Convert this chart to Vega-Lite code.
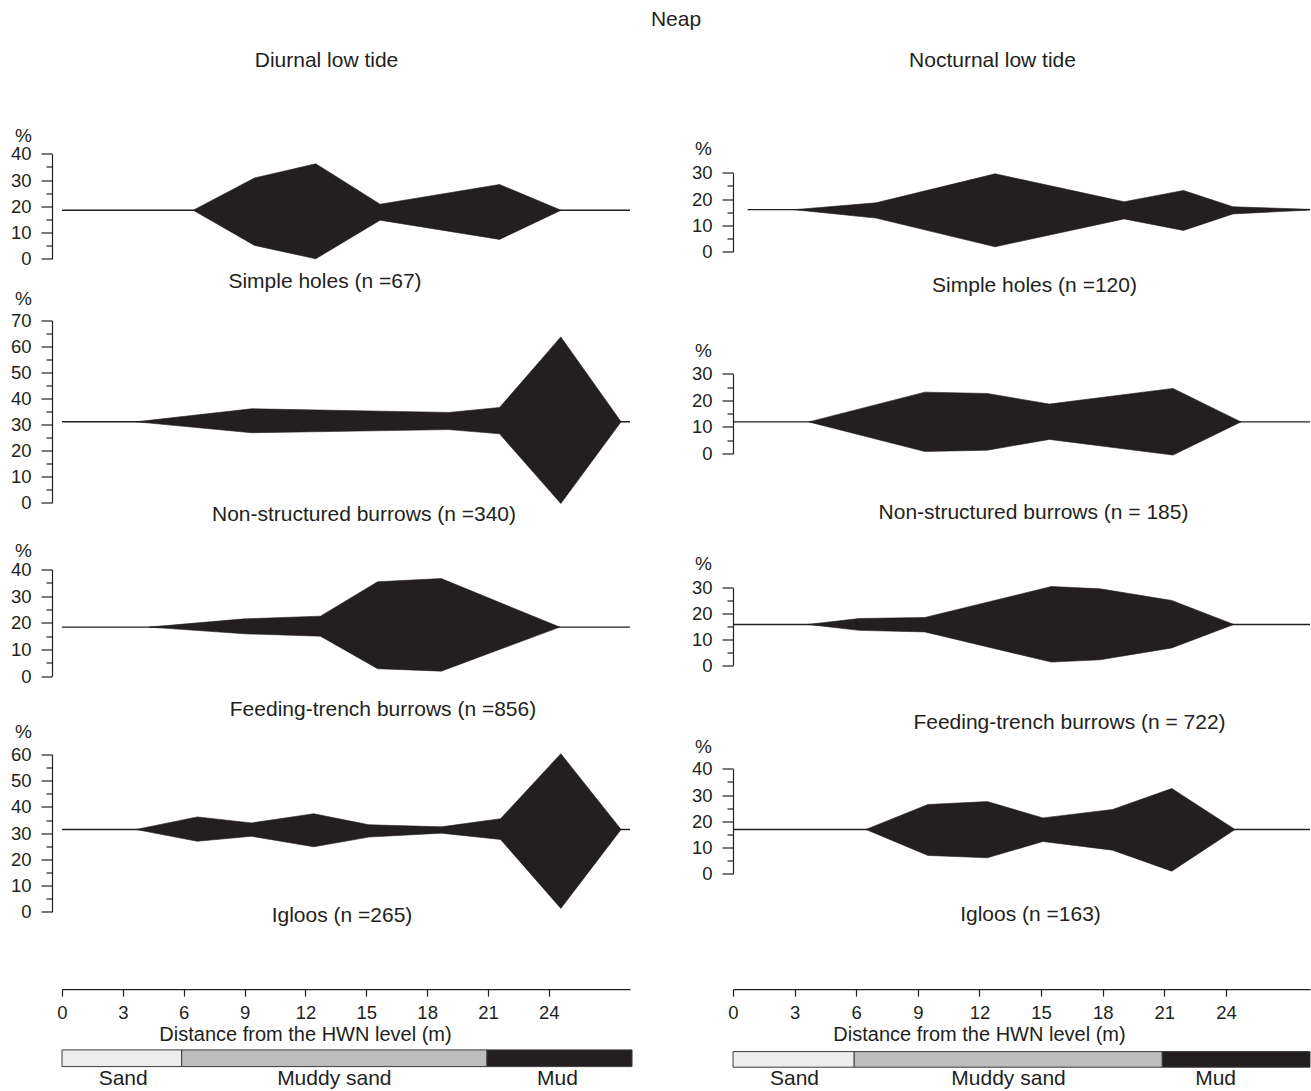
{
"$schema": "https://vega.github.io/schema/vega-lite/v6.json",
"padding": {"left": 10, "top": 8.5, "right": 0, "bottom": 0},
"title": {"text": "Neap", "anchor": "start", "frame": "group", "align": "center", "dx": 614, "offset": 3, "baseline": "alphabetic", "fontSize": 21, "fontWeight": "normal", "color": "#231f20"},
"config": {
  "font": "Liberation Sans",
  "view": {"stroke": null},
  "axis": {"domainColor": "#231f20", "tickColor": "#231f20", "labelColor": "#231f20", "titleColor": "#231f20", "titleFontWeight": "normal", "grid": false, "labelOverlap": false, "labelFlush": false, "domainWidth": 1.2, "tickWidth": 1.2},
  "axisLeft": {"labelFontSize": 18.5, "titleFontSize": 19, "tickSize": 11, "labelPadding": 10, "titleAngle": 0, "titleAlign": "center", "titleBaseline": "alphabetic"},
  "axisBottom": {"labelFontSize": 18.5, "titleFontSize": 20},
  "title": {"fontSize": 21, "fontWeight": "normal", "color": "#231f20"}
},
"datasets": {
  "kites": [
    {"panel":"L1","d":6.47,"hi":18.5,"lo":18.5},
    {"panel":"L1","d":9.49,"hi":30.8,"lo":5.1},
    {"panel":"L1","d":12.51,"hi":36.2,"lo":0},
    {"panel":"L1","d":15.68,"hi":20.8,"lo":14.7},
    {"panel":"L1","d":21.57,"hi":28.3,"lo":7.4},
    {"panel":"L1","d":24.6,"hi":18.5,"lo":18.5},
    {"panel":"L2","d":3.65,"hi":31.1,"lo":31.1},
    {"panel":"L2","d":9.34,"hi":36.1,"lo":26.9},
    {"panel":"L2","d":19.07,"hi":34.7,"lo":28.1},
    {"panel":"L2","d":21.57,"hi":36.6,"lo":26.5},
    {"panel":"L2","d":24.59,"hi":63.7,"lo":-0.3},
    {"panel":"L2","d":27.56,"hi":31.1,"lo":31.1},
    {"panel":"L3","d":4.28,"hi":18.4,"lo":18.4},
    {"panel":"L3","d":9.0,"hi":21.5,"lo":15.9},
    {"panel":"L3","d":12.74,"hi":22.5,"lo":15.0},
    {"panel":"L3","d":15.56,"hi":35.4,"lo":2.8},
    {"panel":"L3","d":18.7,"hi":36.6,"lo":1.9},
    {"panel":"L3","d":24.54,"hi":18.4,"lo":18.4},
    {"panel":"L4","d":3.65,"hi":31.4,"lo":31.4},
    {"panel":"L4","d":6.67,"hi":36.2,"lo":26.9},
    {"panel":"L4","d":9.34,"hi":33.9,"lo":28.8},
    {"panel":"L4","d":12.41,"hi":37.4,"lo":24.8},
    {"panel":"L4","d":15.13,"hi":33.2,"lo":28.5},
    {"panel":"L4","d":18.7,"hi":32.4,"lo":30.0},
    {"panel":"L4","d":21.62,"hi":35.5,"lo":27.6},
    {"panel":"L4","d":24.59,"hi":60.3,"lo":1.3},
    {"panel":"L4","d":27.56,"hi":31.4,"lo":31.4},
    {"panel":"R1","d":2.97,"hi":16,"lo":16},
    {"panel":"R1","d":6.96,"hi":18.6,"lo":12.8},
    {"panel":"R1","d":12.76,"hi":29.6,"lo":1.9},
    {"panel":"R1","d":19.04,"hi":19.0,"lo":12.5},
    {"panel":"R1","d":21.93,"hi":23.3,"lo":8.1},
    {"panel":"R1","d":24.34,"hi":17.1,"lo":14.4},
    {"panel":"R1","d":28.53,"hi":16,"lo":16},
    {"panel":"R2","d":3.69,"hi":11.9,"lo":11.9},
    {"panel":"R2","d":9.34,"hi":23.1,"lo":0.75},
    {"panel":"R2","d":12.38,"hi":22.6,"lo":1.25},
    {"panel":"R2","d":15.4,"hi":18.6,"lo":5.3},
    {"panel":"R2","d":21.42,"hi":24.5,"lo":-0.6},
    {"panel":"R2","d":24.73,"hi":11.9,"lo":11.9},
    {"panel":"R3","d":3.63,"hi":15.8,"lo":15.8},
    {"panel":"R3","d":6.15,"hi":18.1,"lo":13.5},
    {"panel":"R3","d":9.34,"hi":18.5,"lo":12.9},
    {"panel":"R3","d":15.5,"hi":30.5,"lo":1.2},
    {"panel":"R3","d":17.87,"hi":29.6,"lo":2.1},
    {"panel":"R3","d":21.36,"hi":25.1,"lo":6.7},
    {"panel":"R3","d":24.38,"hi":15.8,"lo":15.8},
    {"panel":"R4","d":6.47,"hi":16.9,"lo":16.9},
    {"panel":"R4","d":9.49,"hi":26.4,"lo":7.0},
    {"panel":"R4","d":12.38,"hi":27.5,"lo":6.1},
    {"panel":"R4","d":15.09,"hi":21.3,"lo":12.3},
    {"panel":"R4","d":18.48,"hi":24.5,"lo":9.0},
    {"panel":"R4","d":21.36,"hi":32.5,"lo":1.0},
    {"panel":"R4","d":24.44,"hi":16.9,"lo":16.9}
  ],
  "baselines": [
    {"panel":"L1","x0":0,"x1":28,"base":18.5},
    {"panel":"L2","x0":0,"x1":28,"base":31.1},
    {"panel":"L3","x0":0,"x1":28,"base":18.4},
    {"panel":"L4","x0":0,"x1":28,"base":31.4},
    {"panel":"R1","x0":0.71,"x1":28.09,"base":16},
    {"panel":"R2","x0":0,"x1":28.09,"base":11.9},
    {"panel":"R3","x0":0,"x1":28.09,"base":15.8},
    {"panel":"R4","x0":0,"x1":28.09,"base":16.9}
  ],
  "sediment": [
    {"col":"L","sediment":"Sand","start":0,"end":5.9},
    {"col":"L","sediment":"Muddy sand","start":5.9,"end":20.95},
    {"col":"L","sediment":"Mud","start":20.95,"end":28.1},
    {"col":"R","sediment":"Sand","start":0,"end":5.9},
    {"col":"R","sediment":"Muddy sand","start":5.9,"end":20.9},
    {"col":"R","sediment":"Mud","start":20.9,"end":28.09}
  ]
},
"columns": 2,
"spacing": {"row": 0, "column": 103},
"bounds": "flush",
"align": "each",
"concat": [
  {
    "width": 568, "height": 150,
    "title": {"text": "Simple holes (n =67)", "orient": "bottom", "frame": "group", "anchor": "middle", "offset": -29, "dx": -21},
    "layer": [
      {"data": {"name": "baselines"}, "transform": [{"filter": "datum.panel == 'L1'"}],
       "mark": {"type": "rule", "color": "#231f20", "strokeWidth": 1.4},
       "encoding": {
         "x": {"field": "x0", "type": "quantitative", "scale": {"domain": [0, 28], "nice": false, "zero": false}, "axis": {"orient": "top", "domain": false, "ticks": false, "labels": false, "title": "Diurnal low tide", "titleX": 264, "titleY": -83, "titleAlign": "center", "titleBaseline": "alphabetic", "titleFontSize": 21, "titleAngle": 0}},
         "x2": {"field": "x1"},
         "y": {"field": "base", "type": "quantitative", "scale": {"domain": [0, 40], "range": [109.3, 4.3], "nice": false, "zero": false}, "axis": {"offset": 10, "values": [0,5,10,15,20,25,30,35,40], "labelExpr": "datum.value % 10 == 0 ? datum.label : ''", "tickSize": {"condition": {"test": "datum.value % 10 == 0", "value": 11}, "value": 6}, "title": "%", "titleX": -29, "titleY": -8.5}}}},
      {"data": {"name": "kites"}, "transform": [{"filter": "datum.panel == 'L1'"}],
       "mark": {"type": "area", "color": "#231f20", "clip": true, "stroke": "#231f20", "strokeWidth": 0.6},
       "encoding": {
         "x": {"field": "d", "type": "quantitative", "scale": {"domain": [0, 28], "nice": false, "zero": false}, "axis": {"orient": "top", "domain": false, "ticks": false, "labels": false, "title": "Diurnal low tide", "titleX": 264, "titleY": -83, "titleAlign": "center", "titleBaseline": "alphabetic", "titleFontSize": 21, "titleAngle": 0}},
         "y": {"field": "hi", "type": "quantitative", "scale": {"domain": [0, 40], "range": [109.3, 4.3], "nice": false, "zero": false}, "axis": {"offset": 10, "values": [0,5,10,15,20,25,30,35,40], "labelExpr": "datum.value % 10 == 0 ? datum.label : ''", "tickSize": {"condition": {"test": "datum.value % 10 == 0", "value": 11}, "value": 6}, "title": "%", "titleX": -29, "titleY": -8.5}},
         "y2": {"field": "lo"}}}
    ]
  },
  {
    "width": 577, "height": 150,
    "title": {"text": "Simple holes (n =120)", "orient": "bottom", "frame": "group", "anchor": "middle", "offset": -25, "dx": 13},
    "layer": [
      {"data": {"name": "baselines"}, "transform": [{"filter": "datum.panel == 'R1'"}],
       "mark": {"type": "rule", "color": "#231f20", "strokeWidth": 1.4},
       "encoding": {
         "x": {"field": "x0", "type": "quantitative", "scale": {"domain": [0, 28.09], "nice": false, "zero": false}, "axis": {"orient": "top", "domain": false, "ticks": false, "labels": false, "title": "Nocturnal low tide", "titleX": 259, "titleY": -83, "titleAlign": "center", "titleBaseline": "alphabetic", "titleFontSize": 21, "titleAngle": 0}},
         "x2": {"field": "x1"},
         "y": {"field": "base", "type": "quantitative", "scale": {"domain": [0, 30], "range": [102.3, 23.3], "nice": false, "zero": false}, "axis": {"offset": 0, "values": [0,5,10,15,20,25,30], "labelExpr": "datum.value % 10 == 0 ? datum.label : ''", "tickSize": {"condition": {"test": "datum.value % 10 == 0", "value": 11}, "value": 6}, "title": "%", "titleX": -30, "titleY": 5}}}},
      {"data": {"name": "kites"}, "transform": [{"filter": "datum.panel == 'R1'"}],
       "mark": {"type": "area", "color": "#231f20", "clip": true, "stroke": "#231f20", "strokeWidth": 0.6},
       "encoding": {
         "x": {"field": "d", "type": "quantitative", "scale": {"domain": [0, 28.09], "nice": false, "zero": false}, "axis": {"orient": "top", "domain": false, "ticks": false, "labels": false, "title": "Nocturnal low tide", "titleX": 259, "titleY": -83, "titleAlign": "center", "titleBaseline": "alphabetic", "titleFontSize": 21, "titleAngle": 0}},
         "y": {"field": "hi", "type": "quantitative", "scale": {"domain": [0, 30], "range": [102.3, 23.3], "nice": false, "zero": false}, "axis": {"offset": 0, "values": [0,5,10,15,20,25,30], "labelExpr": "datum.value % 10 == 0 ? datum.label : ''", "tickSize": {"condition": {"test": "datum.value % 10 == 0", "value": 11}, "value": 6}, "title": "%", "titleX": -30, "titleY": 5}},
         "y2": {"field": "lo"}}}
    ]
  },
  {
    "width": 568, "height": 250,
    "title": {"text": "Non-structured burrows (n =340)", "orient": "bottom", "frame": "group", "anchor": "middle", "offset": -46, "dx": 18},
    "layer": [
      {"data": {"name": "baselines"}, "transform": [{"filter": "datum.panel == 'L2'"}],
       "mark": {"type": "rule", "color": "#231f20", "strokeWidth": 1.4},
       "encoding": {
         "x": {"field": "x0", "type": "quantitative", "scale": {"domain": [0, 28], "nice": false, "zero": false}, "axis": null},
         "x2": {"field": "x1"},
         "y": {"field": "base", "type": "quantitative", "scale": {"domain": [0, 70], "range": [203.3, 21], "nice": false, "zero": false}, "axis": {"offset": 10, "values": [0,5,10,15,20,25,30,35,40,45,50,55,60,65,70], "labelExpr": "datum.value % 10 == 0 ? datum.label : ''", "tickSize": {"condition": {"test": "datum.value % 10 == 0", "value": 11}, "value": 6}, "title": "%", "titleX": -29, "titleY": 5}}}},
      {"data": {"name": "kites"}, "transform": [{"filter": "datum.panel == 'L2'"}],
       "mark": {"type": "area", "color": "#231f20", "clip": true, "stroke": "#231f20", "strokeWidth": 0.6},
       "encoding": {
         "x": {"field": "d", "type": "quantitative", "scale": {"domain": [0, 28], "nice": false, "zero": false}, "axis": null},
         "y": {"field": "hi", "type": "quantitative", "scale": {"domain": [0, 70], "range": [203.3, 21], "nice": false, "zero": false}, "axis": {"offset": 10, "values": [0,5,10,15,20,25,30,35,40,45,50,55,60,65,70], "labelExpr": "datum.value % 10 == 0 ? datum.label : ''", "tickSize": {"condition": {"test": "datum.value % 10 == 0", "value": 11}, "value": 6}, "title": "%", "titleX": -29, "titleY": 5}},
         "y2": {"field": "lo"}}}
    ]
  },
  {
    "width": 577, "height": 250,
    "title": {"text": "Non-structured burrows (n = 185)", "orient": "bottom", "frame": "group", "anchor": "middle", "offset": -47.5, "dx": 12},
    "layer": [
      {"data": {"name": "baselines"}, "transform": [{"filter": "datum.panel == 'R2'"}],
       "mark": {"type": "rule", "color": "#231f20", "strokeWidth": 1.4},
       "encoding": {
         "x": {"field": "x0", "type": "quantitative", "scale": {"domain": [0, 28.09], "nice": false, "zero": false}, "axis": null},
         "x2": {"field": "x1"},
         "y": {"field": "base", "type": "quantitative", "scale": {"domain": [0, 30], "range": [154, 74.3], "nice": false, "zero": false}, "axis": {"offset": 0, "values": [0,5,10,15,20,25,30], "labelExpr": "datum.value % 10 == 0 ? datum.label : ''", "tickSize": {"condition": {"test": "datum.value % 10 == 0", "value": 11}, "value": 6}, "title": "%", "titleX": -30, "titleY": 56.5}}}},
      {"data": {"name": "kites"}, "transform": [{"filter": "datum.panel == 'R2'"}],
       "mark": {"type": "area", "color": "#231f20", "clip": true, "stroke": "#231f20", "strokeWidth": 0.6},
       "encoding": {
         "x": {"field": "d", "type": "quantitative", "scale": {"domain": [0, 28.09], "nice": false, "zero": false}, "axis": null},
         "y": {"field": "hi", "type": "quantitative", "scale": {"domain": [0, 30], "range": [154, 74.3], "nice": false, "zero": false}, "axis": {"offset": 0, "values": [0,5,10,15,20,25,30], "labelExpr": "datum.value % 10 == 0 ? datum.label : ''", "tickSize": {"condition": {"test": "datum.value % 10 == 0", "value": 11}, "value": 6}, "title": "%", "titleX": -30, "titleY": 56.5}},
         "y2": {"field": "lo"}}}
    ]
  },
  {
    "width": 568, "height": 190,
    "title": {"text": "Feeding-trench burrows (n =856)", "orient": "bottom", "frame": "group", "anchor": "middle", "offset": -40.5, "dx": 37},
    "layer": [
      {"data": {"name": "baselines"}, "transform": [{"filter": "datum.panel == 'L3'"}],
       "mark": {"type": "rule", "color": "#231f20", "strokeWidth": 1.4},
       "encoding": {
         "x": {"field": "x0", "type": "quantitative", "scale": {"domain": [0, 28], "nice": false, "zero": false}, "axis": null},
         "x2": {"field": "x1"},
         "y": {"field": "base", "type": "quantitative", "scale": {"domain": [0, 40], "range": [126.7, 20], "nice": false, "zero": false}, "axis": {"offset": 10, "values": [0,5,10,15,20,25,30,35,40], "labelExpr": "datum.value % 10 == 0 ? datum.label : ''", "tickSize": {"condition": {"test": "datum.value % 10 == 0", "value": 11}, "value": 6}, "title": "%", "titleX": -29, "titleY": 6.5}}}},
      {"data": {"name": "kites"}, "transform": [{"filter": "datum.panel == 'L3'"}],
       "mark": {"type": "area", "color": "#231f20", "clip": true, "stroke": "#231f20", "strokeWidth": 0.6},
       "encoding": {
         "x": {"field": "d", "type": "quantitative", "scale": {"domain": [0, 28], "nice": false, "zero": false}, "axis": null},
         "y": {"field": "hi", "type": "quantitative", "scale": {"domain": [0, 40], "range": [126.7, 20], "nice": false, "zero": false}, "axis": {"offset": 10, "values": [0,5,10,15,20,25,30,35,40], "labelExpr": "datum.value % 10 == 0 ? datum.label : ''", "tickSize": {"condition": {"test": "datum.value % 10 == 0", "value": 11}, "value": 6}, "title": "%", "titleX": -29, "titleY": 6.5}},
         "y2": {"field": "lo"}}}
    ]
  },
  {
    "width": 577, "height": 190,
    "title": {"text": "Feeding-trench burrows (n = 722)", "orient": "bottom", "frame": "group", "anchor": "middle", "offset": -27.5, "dx": 48},
    "layer": [
      {"data": {"name": "baselines"}, "transform": [{"filter": "datum.panel == 'R3'"}],
       "mark": {"type": "rule", "color": "#231f20", "strokeWidth": 1.4},
       "encoding": {
         "x": {"field": "x0", "type": "quantitative", "scale": {"domain": [0, 28.09], "nice": false, "zero": false}, "axis": null},
         "x2": {"field": "x1"},
         "y": {"field": "base", "type": "quantitative", "scale": {"domain": [0, 30], "range": [115.7, 38.3], "nice": false, "zero": false}, "axis": {"offset": 0, "values": [0,5,10,15,20,25,30], "labelExpr": "datum.value % 10 == 0 ? datum.label : ''", "tickSize": {"condition": {"test": "datum.value % 10 == 0", "value": 11}, "value": 6}, "title": "%", "titleX": -30, "titleY": 20}}}},
      {"data": {"name": "kites"}, "transform": [{"filter": "datum.panel == 'R3'"}],
       "mark": {"type": "area", "color": "#231f20", "clip": true, "stroke": "#231f20", "strokeWidth": 0.6},
       "encoding": {
         "x": {"field": "d", "type": "quantitative", "scale": {"domain": [0, 28.09], "nice": false, "zero": false}, "axis": null},
         "y": {"field": "hi", "type": "quantitative", "scale": {"domain": [0, 30], "range": [115.7, 38.3], "nice": false, "zero": false}, "axis": {"offset": 0, "values": [0,5,10,15,20,25,30], "labelExpr": "datum.value % 10 == 0 ? datum.label : ''", "tickSize": {"condition": {"test": "datum.value % 10 == 0", "value": 11}, "value": 6}, "title": "%", "titleX": -30, "titleY": 20}},
         "y2": {"field": "lo"}}}
    ]
  },
  {
    "width": 568, "height": 240,
    "title": {"text": "Igloos (n =265)", "orient": "bottom", "frame": "group", "anchor": "middle", "offset": -74.2, "dx": -4},
    "layer": [
      {"data": {"name": "baselines"}, "transform": [{"filter": "datum.panel == 'L4'"}],
       "mark": {"type": "rule", "color": "#231f20", "strokeWidth": 1.4},
       "encoding": {
         "x": {"field": "x0", "type": "quantitative", "scale": {"domain": [0, 28], "nice": false, "zero": false}, "axis": null},
         "x2": {"field": "x1"},
         "y": {"field": "base", "type": "quantitative", "scale": {"domain": [0, 60], "range": [172.3, 15], "nice": false, "zero": false}, "axis": {"offset": 10, "values": [0,5,10,15,20,25,30,35,40,45,50,55,60], "labelExpr": "datum.value % 10 == 0 ? datum.label : ''", "tickSize": {"condition": {"test": "datum.value % 10 == 0", "value": 11}, "value": 6}, "title": "%", "titleX": -29, "titleY": -2}}}},
      {"data": {"name": "kites"}, "transform": [{"filter": "datum.panel == 'L4'"}],
       "mark": {"type": "area", "color": "#231f20", "clip": true, "stroke": "#231f20", "strokeWidth": 0.6},
       "encoding": {
         "x": {"field": "d", "type": "quantitative", "scale": {"domain": [0, 28], "nice": false, "zero": false}, "axis": null},
         "y": {"field": "hi", "type": "quantitative", "scale": {"domain": [0, 60], "range": [172.3, 15], "nice": false, "zero": false}, "axis": {"offset": 10, "values": [0,5,10,15,20,25,30,35,40,45,50,55,60], "labelExpr": "datum.value % 10 == 0 ? datum.label : ''", "tickSize": {"condition": {"test": "datum.value % 10 == 0", "value": 11}, "value": 6}, "title": "%", "titleX": -29, "titleY": -2}},
         "y2": {"field": "lo"}}}
    ]
  },
  {
    "width": 577, "height": 240,
    "title": {"text": "Igloos (n =163)", "orient": "bottom", "frame": "group", "anchor": "middle", "offset": -75.4, "dx": 9},
    "layer": [
      {"data": {"name": "baselines"}, "transform": [{"filter": "datum.panel == 'R4'"}],
       "mark": {"type": "rule", "color": "#231f20", "strokeWidth": 1.4},
       "encoding": {
         "x": {"field": "x0", "type": "quantitative", "scale": {"domain": [0, 28.09], "nice": false, "zero": false}, "axis": null},
         "x2": {"field": "x1"},
         "y": {"field": "base", "type": "quantitative", "scale": {"domain": [0, 40], "range": [134.3, 29.3], "nice": false, "zero": false}, "axis": {"offset": 0, "values": [0,5,10,15,20,25,30,35,40], "labelExpr": "datum.value % 10 == 0 ? datum.label : ''", "tickSize": {"condition": {"test": "datum.value % 10 == 0", "value": 11}, "value": 6}, "title": "%", "titleX": -30, "titleY": 13}}}},
      {"data": {"name": "kites"}, "transform": [{"filter": "datum.panel == 'R4'"}],
       "mark": {"type": "area", "color": "#231f20", "clip": true, "stroke": "#231f20", "strokeWidth": 0.6},
       "encoding": {
         "x": {"field": "d", "type": "quantitative", "scale": {"domain": [0, 28.09], "nice": false, "zero": false}, "axis": null},
         "y": {"field": "hi", "type": "quantitative", "scale": {"domain": [0, 40], "range": [134.3, 29.3], "nice": false, "zero": false}, "axis": {"offset": 0, "values": [0,5,10,15,20,25,30,35,40], "labelExpr": "datum.value % 10 == 0 ? datum.label : ''", "tickSize": {"condition": {"test": "datum.value % 10 == 0", "value": 11}, "value": 6}, "title": "%", "titleX": -30, "titleY": 13}},
         "y2": {"field": "lo"}}}
    ]
  },
  {
    "width": 568, "height": 9.6,
    "data": {"name": "sediment"}, "transform": [{"filter": "datum.col == 'L'"}],
    "mark": {"type": "rule", "opacity": 0},
    "encoding": {
      "x": {"field": "start", "type": "quantitative", "scale": {"domain": [0, 28], "nice": false, "zero": false},
            "axis": {"orient": "bottom", "values": [0,3,6,9,12,15,18,21,24], "tickSize": 7, "labelPadding": 7, "title": "Distance from the HWN level (m)", "titleX": 243, "titleY": 51, "titleAlign": "center", "titleBaseline": "alphabetic"}}
    }
  },
  {
    "width": 577, "height": 9.6,
    "data": {"name": "sediment"}, "transform": [{"filter": "datum.col == 'R'"}],
    "mark": {"type": "rule", "opacity": 0},
    "encoding": {
      "x": {"field": "start", "type": "quantitative", "scale": {"domain": [0, 28.09], "nice": false, "zero": false},
            "axis": {"orient": "bottom", "values": [0,3,6,9,12,15,18,21,24], "tickSize": 7, "labelPadding": 7, "title": "Distance from the HWN level (m)", "titleX": 246, "titleY": 51, "titleAlign": "center", "titleBaseline": "alphabetic"}}
    }
  },
  {
    "width": 568, "height": 77.4,
    "data": {"name": "sediment"}, "transform": [{"filter": "datum.col == 'L'"}],
    "mark": {"type": "rect", "stroke": "#3a3a3a", "strokeWidth": 1},
    "encoding": {
      "x": {"field": "start", "type": "quantitative", "scale": {"domain": [0, 28], "nice": false, "zero": false},
            "axis": {"orient": "bottom", "values": [2.99, 13.4, 24.4], "labelExpr": "datum.value < 5 ? 'Sand' : datum.value < 20 ? 'Muddy sand' : 'Mud'", "domain": false, "ticks": false, "labelPadding": 1, "labelFontSize": 21, "title": null}},
      "x2": {"field": "end"},
      "y": {"datum": 0, "type": "quantitative", "scale": {"domain": [0, 1], "range": [77.1, 60.4], "nice": false, "zero": false}, "axis": null},
      "y2": {"datum": 1},
      "color": {"field": "sediment", "type": "nominal", "scale": {"domain": ["Sand", "Muddy sand", "Mud"], "range": ["#ededed", "#bdbdbd", "#231f20"]}, "legend": null}
    }
  },
  {
    "width": 577, "height": 77.4,
    "data": {"name": "sediment"}, "transform": [{"filter": "datum.col == 'R'"}],
    "mark": {"type": "rect", "stroke": "#3a3a3a", "strokeWidth": 1},
    "encoding": {
      "x": {"field": "start", "type": "quantitative", "scale": {"domain": [0, 28.09], "nice": false, "zero": false},
            "axis": {"orient": "bottom", "values": [2.97, 13.39, 23.47], "labelExpr": "datum.value < 5 ? 'Sand' : datum.value < 20 ? 'Muddy sand' : 'Mud'", "domain": false, "ticks": false, "labelPadding": 1, "labelFontSize": 21, "title": null}},
      "x2": {"field": "end"},
      "y": {"datum": 0, "type": "quantitative", "scale": {"domain": [0, 1], "range": [77.7, 62.1], "nice": false, "zero": false}, "axis": null},
      "y2": {"datum": 1},
      "color": {"field": "sediment", "type": "nominal", "scale": {"domain": ["Sand", "Muddy sand", "Mud"], "range": ["#ededed", "#bdbdbd", "#231f20"]}, "legend": null}
    }
  }
]
}
